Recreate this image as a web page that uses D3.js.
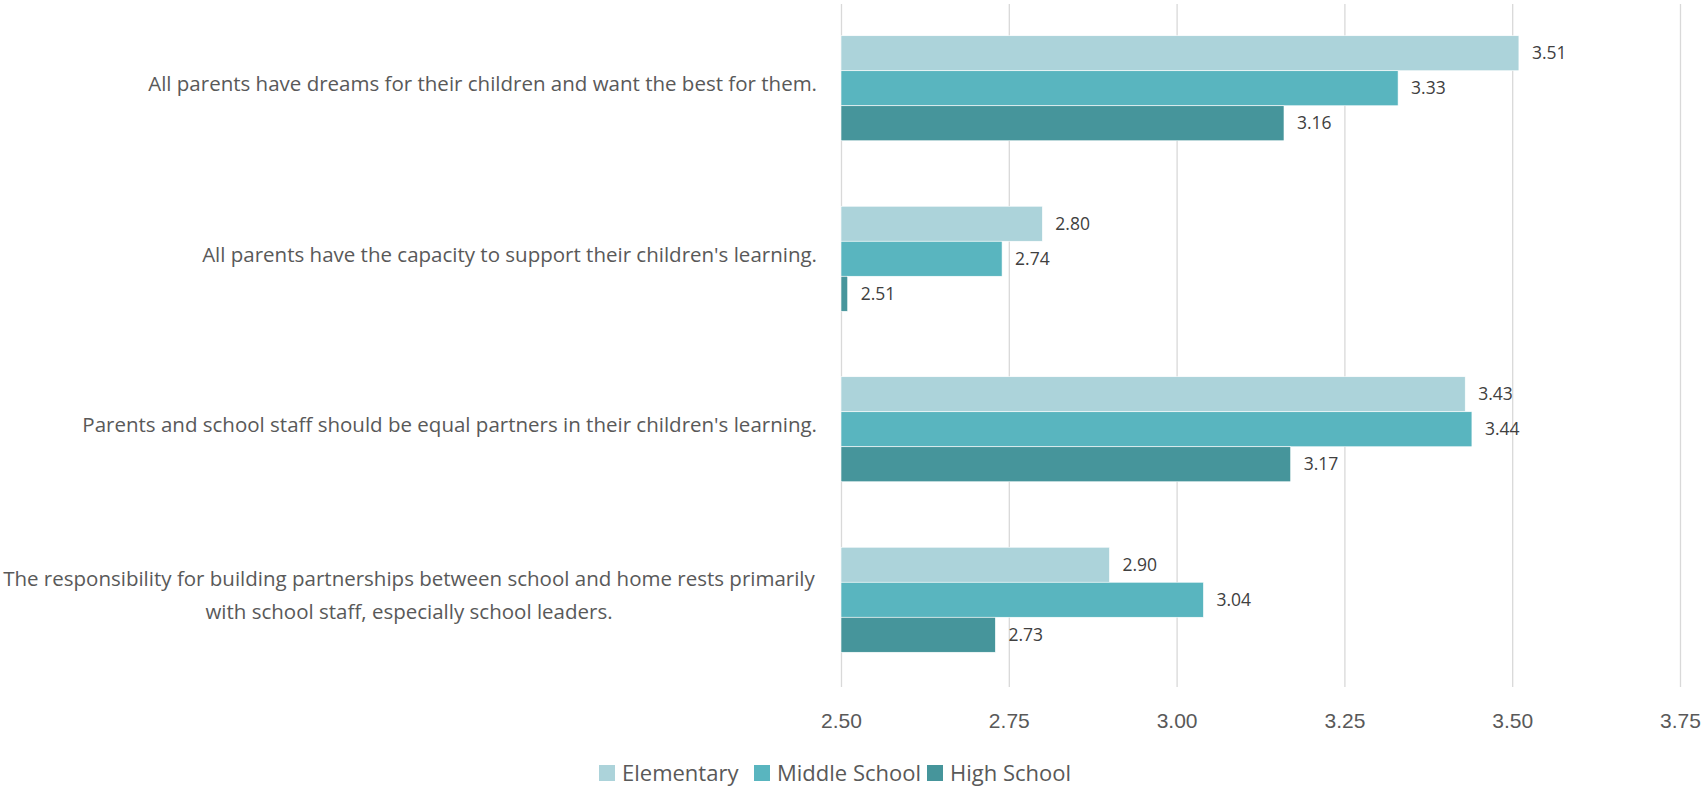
<!DOCTYPE html>
<html>
<head>
<meta charset="utf-8">
<script src="https://cdn.jsdelivr.net/npm/d3@7"></script>
<style>
  html, body { margin: 0; padding: 0; background: #ffffff; }
  svg { display: block; font-family: "Open Sans", "Noto Sans", sans-serif; }
</style>
</head>
<body>
<svg id="chart" width="1704" height="789"></svg>
<script>
// Survey statements (each entry is the list of lines drawn for that label)
const categories = [
  ["All parents have dreams for their children and want the best for them."],
  ["All parents have the capacity to support their children's learning."],
  ["Parents and school staff should be equal partners in their children's learning."],
  ["The responsibility for building partnerships between school and home rests primarily",
   "with school staff, especially school leaders."]
];

// Average agreement by school level
const seriesNames = ["Elementary", "Middle School", "High School"];
const elementary = [3.51, 2.80, 3.43, 2.90];
const middleSchool = [3.33, 2.74, 3.44, 3.04];
const highSchool = [3.16, 2.51, 3.17, 2.73];

const tickValues = [2.50, 2.75, 3.00, 3.25, 3.50, 3.75];

const colors = ["#acd3da", "#59b5bf", "#46959b"];

const seriesValues = [elementary, middleSchool, highSchool];
const rows = categories.map((lines, i) => ({
  key: i,
  lines,
  values: seriesNames.map((name, s) => ({ name, s, value: seriesValues[s][i] }))
}));

const svg = d3.select("#chart");

const x = d3.scaleLinear().domain([2.5, 3.75]).range([841, 1680]);

const y0 = d3.scaleBand()
  .domain(rows.map(d => d.key))
  .range([3, 685])
  .paddingInner(0.384)
  .paddingOuter(0.192);

const y1 = d3.scaleBand()
  .domain(d3.range(seriesNames.length))
  .range([0, y0.bandwidth()]);

// Vertical gridlines
const grid = svg.append("g")
  .attr("transform", "translate(0,687)")
  .call(d3.axisBottom(x).tickValues(tickValues).tickSize(-683).tickFormat(""));
grid.select(".domain").remove();
grid.selectAll(".tick line").attr("stroke", "#d9d9d9").attr("stroke-width", 1.3);

// Tick labels
const axis = svg.append("g")
  .attr("transform", "translate(0,713)")
  .call(d3.axisBottom(x).tickValues(tickValues).tickSize(0).tickFormat(d3.format(".2f")));
axis.select(".domain").remove();
axis.selectAll(".tick text")
  .attr("fill", "#595959")
  .attr("font-size", "21px")
  .attr("dy", "0.71em")
  .attr("y", 0);

// Bars
const groups = svg.append("g").selectAll("g")
  .data(rows)
  .join("g")
  .attr("transform", d => `translate(0,${y0(d.key)})`);

groups.selectAll("rect")
  .data(d => d.values)
  .join("rect")
  .attr("x", x(2.5))
  .attr("y", d => y1(d.s))
  .attr("width", d => x(d.value) - x(2.5))
  .attr("height", y1.bandwidth())
  .attr("fill", d => colors[d.s])
  .attr("stroke", "#ffffff")
  .attr("stroke-width", 0.6);

// Value labels
groups.selectAll("text.value")
  .data(d => d.values)
  .join("text")
  .attr("class", "value")
  .attr("x", d => x(d.value) + 13)
  .attr("y", d => y1(d.s) + y1.bandwidth() / 2)
  .attr("dy", "0.35em")
  .attr("font-size", "17.5px")
  .attr("fill", "#404040")
  .text(d => d3.format(".2f")(d.value));

// Category labels
const labelG = svg.append("g");
rows.forEach(d => {
  const cy = y0(d.key) + y0.bandwidth() / 2;
  const lineH = 33;
  const multi = d.lines.length > 1;
  const t = labelG.append("text")
    .attr("font-size", "20.5px")
    .attr("fill", "#595959")
    .attr("text-anchor", multi ? "middle" : "end");
  d.lines.forEach((line, i) => {
    t.append("tspan")
      .attr("x", multi ? 409 : 817)
      .attr("y", cy + (i - (d.lines.length - 1) / 2) * lineH - 4)
      .attr("dy", "0.35em")
      .text(line);
  });
});

// Legend
const legendX = [599, 754, 927];
const legend = svg.append("g").selectAll("g")
  .data(seriesNames)
  .join("g")
  .attr("transform", (d, i) => `translate(${legendX[i]},773)`);
legend.append("rect")
  .attr("x", 0).attr("y", -8)
  .attr("width", 16).attr("height", 16)
  .attr("fill", (d, i) => colors[i]);
legend.append("text")
  .attr("x", 23)
  .attr("dy", "0.35em")
  .attr("font-size", "22px")
  .attr("fill", "#595959")
  .text(d => d);
</script>
</body>
</html>
